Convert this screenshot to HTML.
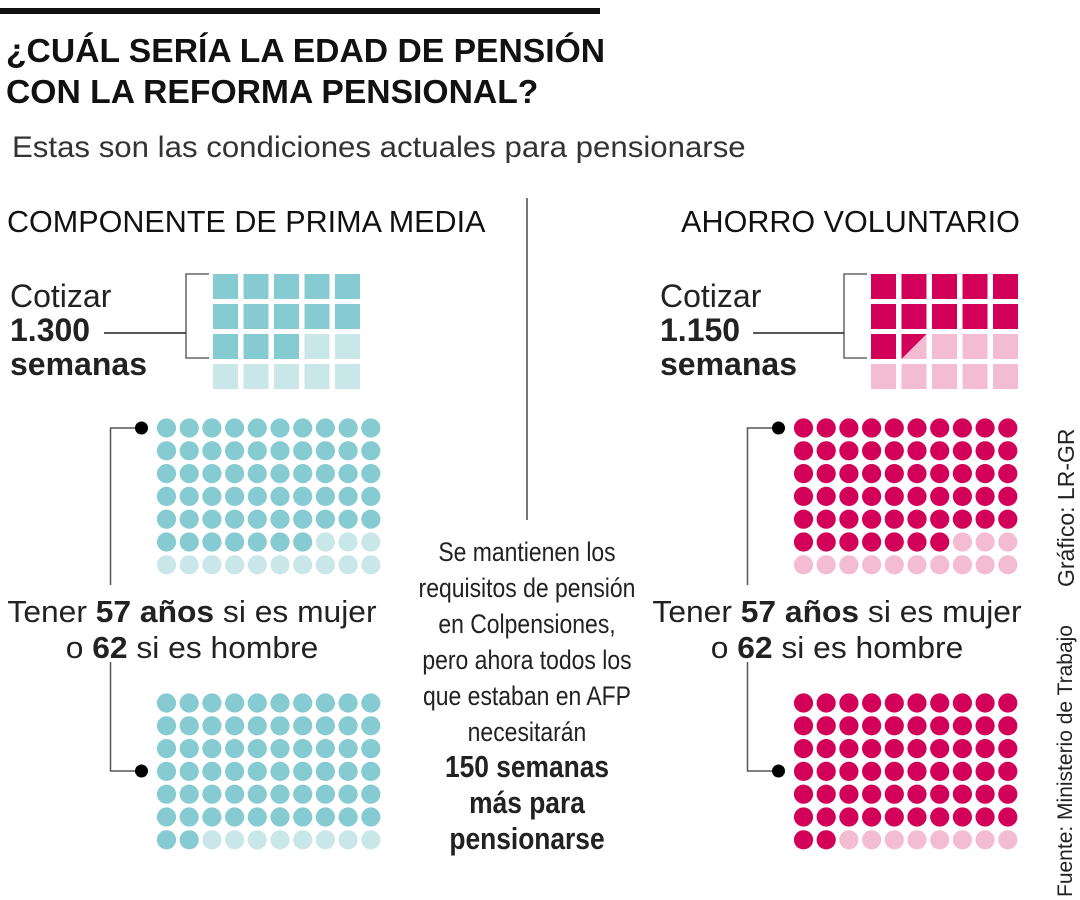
<!DOCTYPE html>
<html><head><meta charset="utf-8">
<style>
body{margin:0;width:1080px;height:900px;background:#fff;overflow:hidden;font-family:"Liberation Sans",sans-serif;color:#111}
.t{position:absolute;white-space:nowrap}
</style></head>
<body>
<div style="position:absolute;left:0;top:8px;width:600px;height:6px;background:#111"></div>
<div class="t" style="left:6px;top:30px;font-size:33px;font-weight:bold;line-height:41px;transform:scaleX(1.02);transform-origin:left">¿CUÁL SERÍA LA EDAD DE PENSIÓN<br>CON LA REFORMA PENSIONAL?</div>
<div class="t" style="left:12px;top:131px;font-size:30px;color:#333;transform:scaleX(1.04);transform-origin:left">Estas son las condiciones actuales para pensionarse</div>
<div class="t" style="left:7px;top:204px;font-size:31px;transform:scaleX(0.985);transform-origin:left">COMPONENTE DE PRIMA MEDIA</div>
<div class="t" style="right:60px;top:204px;font-size:31px;transform:scaleX(0.985);transform-origin:right">AHORRO VOLUNTARIO</div>
<div style="position:absolute;left:526px;top:198px;width:2px;height:322px;background:#777"></div>

<div class="t" style="left:10px;top:279px;font-size:32px;line-height:34px;color:#222">Cotizar<br><b>1.300</b><br><b>semanas</b></div>
<div class="t" style="left:660px;top:279px;font-size:32px;line-height:34px;color:#222">Cotizar<br><b>1.150</b><br><b>semanas</b></div>

<div class="t" style="left:8px;top:594px;width:368px;text-align:center;font-size:31px;line-height:36px;color:#222;transform:scaleX(1.025)">Tener <b>57 años</b> si es mujer<br>o <b>62</b> si es hombre</div>
<div class="t" style="left:652px;top:594px;width:370px;text-align:center;font-size:31px;line-height:36px;color:#222;transform:scaleX(1.025)">Tener <b>57 años</b> si es mujer<br>o <b>62</b> si es hombre</div>

<div class="t" style="left:397px;top:534px;width:260px;text-align:center;font-size:27px;line-height:36px;color:#222;transform:scaleX(0.85)">Se mantienen los<br>requisitos de pensión<br>en Colpensiones,<br>pero ahora todos los<br>que estaban en AFP<br>necesitarán<br><b style="font-size:31px;line-height:34px">150 semanas<br>más para<br>pensionarse</b></div>

<div class="t" style="left:1053px;top:587px;font-size:23px;color:#222;transform:rotate(-90deg);transform-origin:left top">Gráfico: LR-GR</div>
<div class="t" style="left:1054px;top:897px;font-size:21px;color:#222;transform:rotate(-90deg);transform-origin:left top">Fuente: Ministerio de Trabajo</div>

<svg id="chart" width="1080" height="900" style="position:absolute;left:0;top:0"></svg>
<script>
// data
const weekGroups = ["prima-media","ahorro-voluntario"];
const weeksRequired = [1300, 1150];
const weeksPerSquare = 100;
const ageGroups = ["mujer","hombre"];
const ageValues = [57, 62];
const totalSquares = 20, totalDots = 70;

const colors = {dark:["#86cbd1","#d3005a"], light:["#c9e6e9","#f3bcd3"]};
const NS = "http://www.w3.org/2000/svg";
const svg = document.getElementById("chart");
function mk(tag, attrs){const e=document.createElementNS(NS,tag);for(const k in attrs)e.setAttribute(k,attrs[k]);svg.appendChild(e);return e;}
const panelX = [213, 871];
const dotX = [166.5, 803.5];
const sqPitch = 30.5, sqSize = 25, sqTop = 274, sqRowPitch = 30;
const dotPitch = 22.7, r = 9.6;
const dotTops = [428, 703];

weekGroups.forEach((g, p) => {
  const filled = weeksRequired[p] / weeksPerSquare;
  for (let i = 0; i < totalSquares; i++) {
    const x = panelX[p] + (i % 5) * sqPitch, y = sqTop + Math.floor(i / 5) * sqRowPitch;
    const frac = Math.max(0, Math.min(1, filled - i));
    const s = mk("rect", {x, y, width: sqSize, height: sqSize, fill: frac >= 1 ? colors.dark[p] : colors.light[p]});
    
    
    if (frac > 0 && frac < 1) {
      const t = mk("polygon", {points: `${x},${y} ${x + sqSize},${y} ${x},${y + sqSize}`, fill: colors.dark[p]});
      
      
    }
  }
  const bx = panelX[p] - 27;
  mk("polyline", {points: `${bx + 23},${sqTop} ${bx},${sqTop} ${bx},${sqTop + 84} ${bx + 23},${sqTop + 84}`, fill: "none", stroke: "#666", "stroke-width": 1.5});
  mk("line", {x1: p ? 753 : 104, y1: 333, x2: bx, y2: 333, stroke: "#222", "stroke-width": 1.5});

  ageValues.forEach((v, a) => {
    for (let i = 0; i < totalDots; i++) {
      const c = mk("circle", {cx: dotX[p] + (i % 10) * dotPitch, cy: dotTops[a] + Math.floor(i / 10) * 22.8, r, fill: i < v ? colors.dark[p] : colors.light[p]});
      
      
    }
  });
  const lx = dotX[p] - 56, bulletX = dotX[p] - 25;
  mk("polyline", {points: `${lx},585 ${lx},428 ${bulletX},428`, fill: "none", stroke: "#555", "stroke-width": 1.5});
  mk("circle", {cx: bulletX, cy: 428, r: 6.5, fill: "#000"});
  mk("polyline", {points: `${lx},662 ${lx},771 ${bulletX},771`, fill: "none", stroke: "#555", "stroke-width": 1.5});
  mk("circle", {cx: bulletX, cy: 771, r: 6.5, fill: "#000"});
});
</script>
</body></html>
